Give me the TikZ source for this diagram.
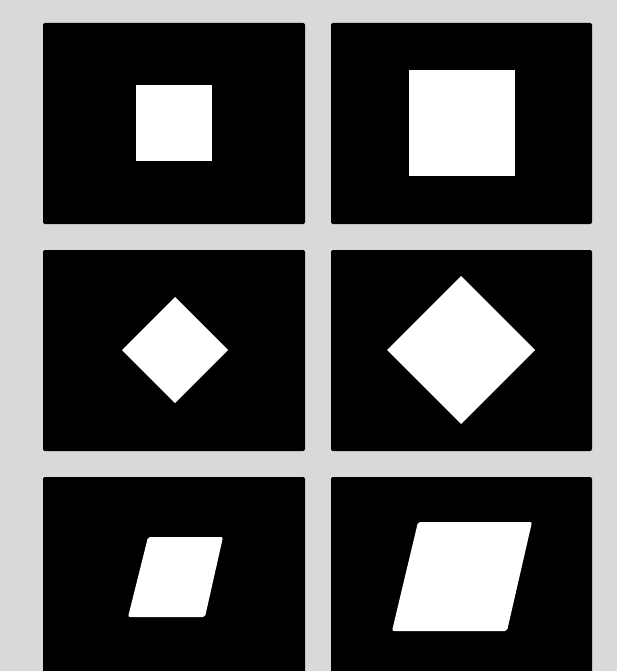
\documentclass[tikz,border=0pt]{standalone}
\usepackage{xcolor}
\usepackage{tikz}
\definecolor{bggray}{RGB}{217,217,217}

\begin{document}
\begin{tikzpicture}[x=1pt, y=-1pt,
    panel/.style={fill=black, rounded corners=2pt},
    blob/.style={fill=white},
    slant/.style={fill=white, rounded corners=2pt}
]
\clip (0,0) rectangle (617,671);
\fill[bggray] (0,0) rectangle (617,671);
% black panels
\foreach \y in {23, 250, 477} {
  \fill[panel] (43,\y) rectangle (305,\y+201);
  \fill[panel] (331,\y) rectangle (592,\y+201);
}
% squares
\fill[blob] (136,85) rectangle (212,161);
\fill[blob] (409,70) rectangle (515,176);
% rotated squares
\fill[blob] (175,297) -- (228,350) -- (175,403) -- (122,350) -- cycle;
\fill[blob] (461,276) -- (535,350) -- (461,424) -- (387,350) -- cycle;
% sheared squares
\fill[slant] (148,537) -- (223,537) -- (205,617) -- (128,617) -- cycle;
\fill[slant] (418,522) -- (532,522) -- (507,631) -- (392,631) -- cycle;
\end{tikzpicture}
\end{document}
